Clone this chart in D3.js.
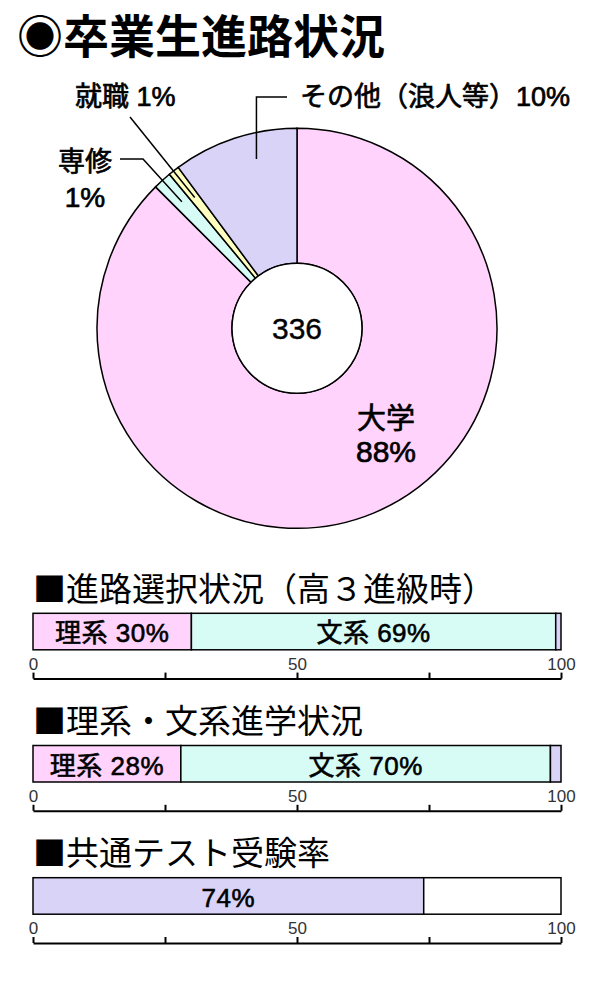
<!DOCTYPE html>
<html>
<head>
<meta charset="utf-8">
<script src="https://cdn.jsdelivr.net/npm/d3@7"></script>
<style>
	body { margin: 0; background: #fff; }
	svg { display: block; }
</style>
</head>
<body>
<div id="graphic"></div>
<script>
// pie: graduates' destinations (clockwise from 12 o'clock)
var pieCategories = ["大学", "専修", "就職", "その他（浪人等）"]
var pieValues = [294, 5, 3, 34]
var piePercents = ["88%", "1%", "1%", "10%"]
var pieTotal = "336"

// bar charts
var barTitles = ["進路選択状況（高３進級時）", "理系・文系進学状況", "共通テスト受験率"]
var choiceSegments = ["理系", "文系", "その他"]
var choiceValues = [30, 69, 1]
var choiceLabels = ["理系 30%", "文系 69%", ""]
var enrollSegments = ["理系", "文系", "その他"]
var enrollValues = [28, 70, 2]
var enrollLabels = ["理系 28%", "文系 70%", ""]
var testSegments = ["受験", "未受験"]
var testValues = [74, 26]
var testLabels = ["74%", ""]

var axisTicks = [0, 25, 50, 75, 100]
var axisTickLabels = ["0", "", "50", "", "100"]

var COLORS = {
	"大学": "#ffd3fb",
	"専修": "#d7fcf5",
	"就職": "#ffffc0",
	"その他（浪人等）": "#d9d3f8",
	"理系": "#ffd3fb",
	"文系": "#d7fcf5",
	"その他": "#d9d3f8",
	"受験": "#d9d3f8",
	"未受験": "#ffffff"
}

var FONT = "'Liberation Sans', 'Noto Sans CJK JP', sans-serif"
var CJK = "'Noto Sans CJK JP', sans-serif"

var width = 600, height = 1000

var svg = d3.select("#graphic")
	.append("svg")
	.attr("width", width)
	.attr("height", height)

// title
svg.append("text")
	.attr("x", 17)
	.attr("y", 53)
	.attr("font-family", CJK)
	.attr("font-weight", "bold")
	.attr("font-size", 46)
	.attr("fill", "#000")
	.text("◉卒業生進路状況")

// ---- pie ----
var cx = 297, cy = 328.3
var outerR = 200, innerR = 65

var pie = d3.pie().sort(null).value(function(d){ return d })
var arcs = pie(pieValues)
var arc = d3.arc().innerRadius(innerR).outerRadius(outerR)

var pieG = svg.append("g").attr("transform", "translate(" + cx + "," + cy + ")")

pieG.selectAll(".slice")
	.data(arcs)
	.enter()
	.append("path")
		.attr("class", "slice")
		.attr("d", arc)
		.attr("fill", function(d, i){ return COLORS[pieCategories[i]] })
		.attr("stroke", "#000")
		.attr("stroke-width", 1.5)

pieG.append("circle")
	.attr("r", innerR)
	.attr("fill", "#fff")
	.attr("stroke", "#000")
	.attr("stroke-width", 1.5)

pieG.append("text")
	.attr("x", 0)
	.attr("y", 11)
	.attr("text-anchor", "middle")
	.attr("font-family", FONT)
	.attr("font-size", 30)
	.attr("stroke", "#000")
	.attr("stroke-width", 0.4)
	.text(pieTotal)

// point inside a slice: t = fraction along the slice, r = radius
function slicePoint(d, t, r){
	var a = d.startAngle + (d.endAngle - d.startAngle) * t
	return [cx + r * Math.sin(a), cy - r * Math.cos(a)]
}

// medium-looking labels: regular weight with a thin outline
var labelG = svg.append("g")
	.attr("font-family", FONT)
	.attr("font-size", 27)
	.attr("fill", "#000")
	.attr("stroke", "#000")
	.attr("stroke-width", 0.7)

// 大学 inside its slice
labelG.append("text")
	.attr("x", cx + 89).attr("y", cy + 101)
	.attr("text-anchor", "middle")
	.attr("font-size", 29)
	.text(pieCategories[0])
labelG.append("text")
	.attr("x", cx + 89).attr("y", cy + 134)
	.attr("text-anchor", "middle")
	.attr("font-size", 30)
	.text(piePercents[0])

var line = d3.line()
var leaders = svg.append("g")
	.attr("fill", "none")
	.attr("stroke", "#000")
	.attr("stroke-width", 1.5)

// 専修
var pS = slicePoint(arcs[1], 0.5, 171)
leaders.append("path").attr("d", line([pS, [143, 159], [120, 159]]))
labelG.append("text")
	.attr("x", 85).attr("y", 171)
	.attr("text-anchor", "middle")
	.text(pieCategories[1])
labelG.append("text")
	.attr("x", 85).attr("y", 207)
	.attr("text-anchor", "middle")
	.attr("font-size", 28)
	.text(piePercents[1])

// 就職
var pJ = slicePoint(arcs[2], 0.5, 166)
leaders.append("path").attr("d", line([pJ, [130, 117]]))
labelG.append("text")
	.attr("x", 75).attr("y", 106)
	.text(pieCategories[2] + " " + piePercents[2])

// その他
var pO = slicePoint(arcs[3], 0.63, 174)
leaders.append("path").attr("d", line([pO, [pO[0], 97], [287, 97]]))
labelG.append("text")
	.attr("x", 300).attr("y", 106)
	.text(pieCategories[3] + piePercents[3])

// ---- bars ----
var x = d3.scaleLinear().domain([0, 100]).range([33, 561])
var barH = 36.5

var barSets = [
	{segments: choiceSegments, values: choiceValues, labels: choiceLabels},
	{segments: enrollSegments, values: enrollValues, labels: enrollLabels},
	{segments: testSegments, values: testValues, labels: testLabels}
]

barSets.forEach(function(set, k){
	var top = 613.3 + k * 132.2
	var g = svg.append("g")

	g.append("text")
		.attr("x", 33)
		.attr("y", top - 12.5)
		.attr("font-family", CJK)
		.attr("font-size", 33)
		.attr("fill", "#000")
		.text("■" + barTitles[k])

	var starts = [0].concat(Array.from(d3.cumsum(set.values))).slice(0, set.values.length)

	g.selectAll(".seg")
		.data(set.values)
		.enter()
		.append("rect")
			.attr("class", "seg")
			.attr("x", function(d, i){ return x(starts[i]) })
			.attr("width", function(d, i){ return x(starts[i] + d) - x(starts[i]) })
			.attr("y", top)
			.attr("height", barH)
			.attr("fill", function(d, i){ return COLORS[set.segments[i]] })
			.attr("stroke", "#000")
			.attr("stroke-width", 1.5)

	g.selectAll(".segLabel")
		.data(set.values)
		.enter()
		.append("text")
			.attr("class", "segLabel")
			.attr("x", function(d, i){ return x(starts[i] + d / 2) })
			.attr("y", top + 29)
			.attr("text-anchor", "middle")
			.attr("font-family", FONT)
			.attr("font-size", 26)
			.attr("letter-spacing", 0.5)
			.attr("stroke", "#000")
			.attr("stroke-width", 0.6)
			.text(function(d, i){ return set.labels[i] })

	var axis = d3.axisTop(x)
		.tickValues(axisTicks)
		.tickFormat(function(d, i){ return axisTickLabels[i] })
		.tickSize(6)
		.tickSizeOuter(0)
		.tickPadding(3)

	var ax = g.append("g")
		.attr("transform", "translate(0," + (top + 65.3) + ")")
		.call(axis)
	ax.attr("font-family", FONT).attr("font-size", 17)
	ax.select(".domain").attr("stroke-width", 2).attr("stroke", "#000")
	ax.selectAll(".tick line").attr("stroke-width", 2).attr("stroke", "#000")
	ax.selectAll(".tick text").attr("fill", "#333")
})
</script>
</body>
</html>
